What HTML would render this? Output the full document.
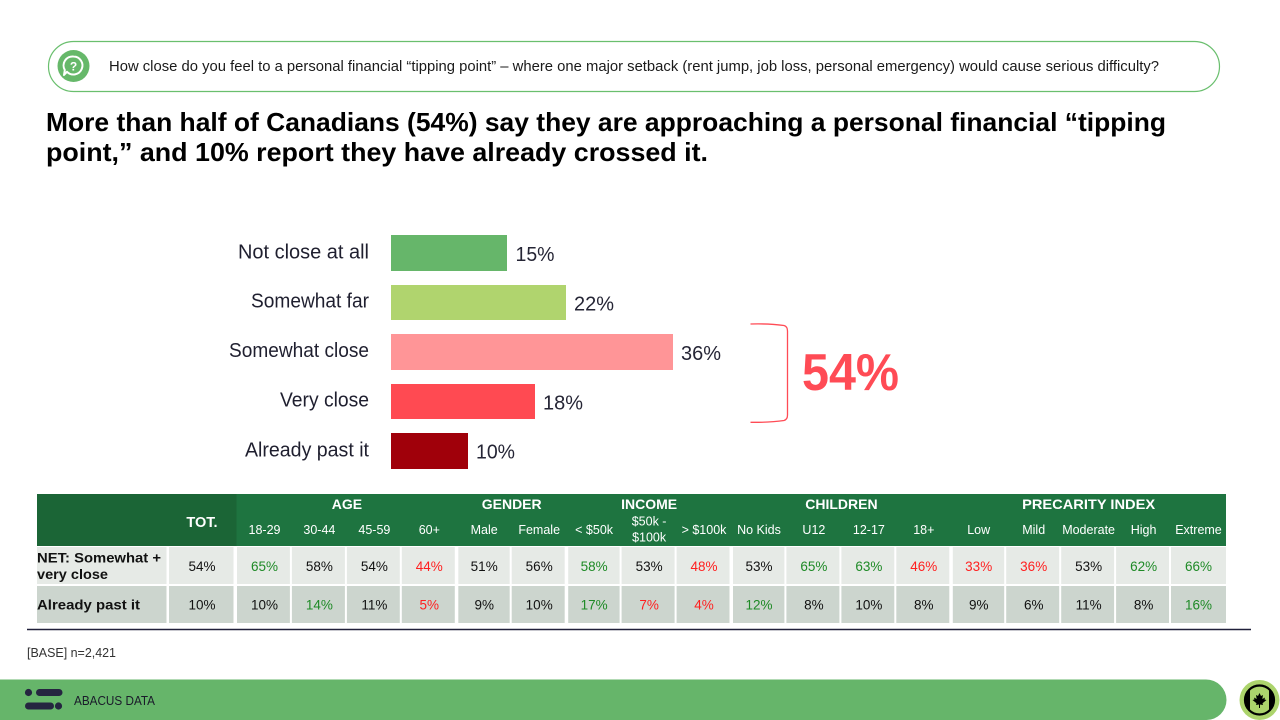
<!DOCTYPE html>
<html>
<head>
<meta charset="utf-8">
<style>
  html,body{margin:0;padding:0;background:#fff;}
  svg{display:block;}
  text{font-family:"Liberation Sans", Arial, sans-serif;}
</style>
</head>
<body>
<svg width="1280" height="720" viewBox="0 0 1280 720" xmlns="http://www.w3.org/2000/svg">
  <rect x="0" y="0" width="1280" height="720" fill="#ffffff"/>

  <!-- Question box -->
  <rect x="48.5" y="41.5" width="1171" height="50" rx="25" ry="25" fill="#fff" stroke="#6abf6e" stroke-width="1.2"/>
  <circle cx="73.5" cy="66" r="16" fill="#66b86a"/>
  <path d="M73.5,56.5 a9,9 0 1 1 -6.5,15.3 l-3,3.2 l0.8,-5 a9,9 0 0 1 8.7,-13.5 z" fill="none" stroke="#fff" stroke-width="2" stroke-linejoin="round"/>
  <text x="73.5" y="70.5" font-size="12" font-weight="bold" fill="#fff" text-anchor="middle">?</text>
  <text x="109" y="71" font-size="15" fill="#1a1a1a" textLength="1050" lengthAdjust="spacingAndGlyphs">How close do you feel to a personal financial “tipping point” – where one major setback (rent jump, job loss, personal emergency) would cause serious difficulty?</text>

  <!-- Title -->
  <text x="46" y="131" font-size="26" font-weight="bold" fill="#000" textLength="1120" lengthAdjust="spacingAndGlyphs">More than half of Canadians (54%) say they are approaching a personal financial “tipping</text>
  <text x="46" y="161" font-size="26" font-weight="bold" fill="#000" textLength="662" lengthAdjust="spacingAndGlyphs">point,” and 10% report they have already crossed it.</text>

  <!-- Bar labels -->
  <g font-size="20" fill="#1f1f2f">
    <text x="238" y="258.5" textLength="131" lengthAdjust="spacingAndGlyphs">Not close at all</text>
    <text x="251" y="307.5" textLength="118" lengthAdjust="spacingAndGlyphs">Somewhat far</text>
    <text x="229" y="357" textLength="140" lengthAdjust="spacingAndGlyphs">Somewhat close</text>
    <text x="280" y="406.5" textLength="89" lengthAdjust="spacingAndGlyphs">Very close</text>
    <text x="245" y="456.5" textLength="124" lengthAdjust="spacingAndGlyphs">Already past it</text>
  </g>

  <!-- Bars -->
  <rect x="391" y="235" width="116" height="36" fill="#66b66a"/>
  <rect x="391" y="285" width="175" height="35" fill="#b0d46e"/>
  <rect x="391" y="334" width="282" height="36" fill="#ff9597"/>
  <rect x="391" y="384" width="144" height="35" fill="#ff4a52"/>
  <rect x="391" y="433" width="77" height="36" fill="#a0000a"/>

  <!-- Values -->
  <g font-size="20" fill="#252535">
    <text x="515.5" y="261" textLength="39" lengthAdjust="spacingAndGlyphs">15%</text>
    <text x="574" y="310.5" textLength="40" lengthAdjust="spacingAndGlyphs">22%</text>
    <text x="681" y="360" textLength="40" lengthAdjust="spacingAndGlyphs">36%</text>
    <text x="543" y="409.5" textLength="40" lengthAdjust="spacingAndGlyphs">18%</text>
    <text x="476" y="458.5" textLength="39" lengthAdjust="spacingAndGlyphs">10%</text>
  </g>

  <!-- Bracket -->
  <path d="M750.5,324 Q770,323.5 784,325.5 Q787.5,326.5 787.5,331 L787.5,415 Q787.5,419.5 784,420.5 Q770,422.5 750.5,422.3" fill="none" stroke="#ff4b55" stroke-width="1.3"/>
  <text x="802" y="390" font-size="52" font-weight="bold" fill="#ff4b55" textLength="97" lengthAdjust="spacingAndGlyphs">54%</text>

  <!-- Table header -->
  <rect x="37" y="494" width="199.5" height="52" fill="#1b6536"/>
  <rect x="236.5" y="494" width="989.5" height="52" fill="#1e7440"/>
  <text x="202" y="527" font-size="14.5" font-weight="bold" fill="#fff" text-anchor="middle">TOT.</text>
  <g font-size="14" font-weight="bold" fill="#fff" text-anchor="middle">
    <text x="346.9" y="509">AGE</text>
    <text x="511.7" y="509">GENDER</text>
    <text x="649.1" y="509">INCOME</text>
    <text x="841.4" y="509">CHILDREN</text>
    <text x="1088.6" y="509" textLength="133" lengthAdjust="spacingAndGlyphs">PRECARITY INDEX</text>
  </g>
  <g font-size="12.5" fill="#fff" text-anchor="middle">
    <text x="264.5" y="534">18-29</text>
    <text x="319.4" y="534">30-44</text>
    <text x="374.4" y="534">45-59</text>
    <text x="429.3" y="534">60+</text>
    <text x="484.2" y="534">Male</text>
    <text x="539.2" y="534">Female</text>
    <text x="594.1" y="534">&lt; $50k</text>
    <text x="649.1" y="525.5">$50k -</text>
    <text x="649.1" y="541.5">$100k</text>
    <text x="704.0" y="534">&gt; $100k</text>
    <text x="759.0" y="534">No Kids</text>
    <text x="813.9" y="534">U12</text>
    <text x="868.9" y="534">12-17</text>
    <text x="923.8" y="534">18+</text>
    <text x="978.7" y="534">Low</text>
    <text x="1033.7" y="534">Mild</text>
    <text x="1088.6" y="534">Moderate</text>
    <text x="1143.6" y="534">High</text>
    <text x="1198.5" y="534">Extreme</text>
  </g>

  <!-- Table rows backgrounds -->
  <rect x="37" y="547" width="1189" height="37" fill="#e6eae6"/>
  <rect x="37" y="586" width="1189" height="37" fill="#ccd5ce"/>
  <!-- white separators -->
  <g fill="#ffffff">
    <rect x="166.5" y="546" width="2.5" height="78"/>
    <rect x="233.5" y="546" width="3.5" height="78"/>
    <rect x="289.9" y="546" width="2" height="78"/>
    <rect x="344.9" y="546" width="2" height="78"/>
    <rect x="399.8" y="546" width="2" height="78"/>
    <rect x="454.8" y="546" width="3.5" height="78"/>
    <rect x="509.7" y="546" width="2" height="78"/>
    <rect x="564.7" y="546" width="3.5" height="78"/>
    <rect x="619.6" y="546" width="2" height="78"/>
    <rect x="674.6" y="546" width="2" height="78"/>
    <rect x="729.5" y="546" width="3.5" height="78"/>
    <rect x="784.4" y="546" width="2" height="78"/>
    <rect x="839.4" y="546" width="2" height="78"/>
    <rect x="894.3" y="546" width="2" height="78"/>
    <rect x="949.3" y="546" width="3.5" height="78"/>
    <rect x="1004.2" y="546" width="2" height="78"/>
    <rect x="1059.2" y="546" width="2" height="78"/>
    <rect x="1114.1" y="546" width="2" height="78"/>
    <rect x="1169" y="546" width="2" height="78"/>
  </g>

  <!-- Row labels -->
  <g font-size="14" font-weight="bold" fill="#111">
    <text x="37" y="562.5" textLength="124" lengthAdjust="spacingAndGlyphs">NET: Somewhat +</text>
    <text x="37" y="579" textLength="71" lengthAdjust="spacingAndGlyphs">very close</text>
    <text x="37" y="609.5" textLength="103" lengthAdjust="spacingAndGlyphs">Already past it</text>
  </g>

  <!-- Row 1 values -->
  <g font-size="13.5" text-anchor="middle" fill="#111">
    <text x="202" y="571">54%</text>
    <text x="264.5" y="571" fill="#1e8a26">65%</text>
    <text x="319.4" y="571">58%</text>
    <text x="374.4" y="571">54%</text>
    <text x="429.3" y="571" fill="#ff1f1f">44%</text>
    <text x="484.2" y="571">51%</text>
    <text x="539.2" y="571">56%</text>
    <text x="594.1" y="571" fill="#1e8a26">58%</text>
    <text x="649.1" y="571">53%</text>
    <text x="704.0" y="571" fill="#ff1f1f">48%</text>
    <text x="759.0" y="571">53%</text>
    <text x="813.9" y="571" fill="#1e8a26">65%</text>
    <text x="868.9" y="571" fill="#1e8a26">63%</text>
    <text x="923.8" y="571" fill="#ff1f1f">46%</text>
    <text x="978.7" y="571" fill="#ff1f1f">33%</text>
    <text x="1033.7" y="571" fill="#ff1f1f">36%</text>
    <text x="1088.6" y="571">53%</text>
    <text x="1143.6" y="571" fill="#1e8a26">62%</text>
    <text x="1198.5" y="571" fill="#1e8a26">66%</text>
  </g>
  <!-- Row 2 values -->
  <g font-size="13.5" text-anchor="middle" fill="#111">
    <text x="202" y="609.5">10%</text>
    <text x="264.5" y="609.5">10%</text>
    <text x="319.4" y="609.5" fill="#1e8a26">14%</text>
    <text x="374.4" y="609.5">11%</text>
    <text x="429.3" y="609.5" fill="#ff1f1f">5%</text>
    <text x="484.2" y="609.5">9%</text>
    <text x="539.2" y="609.5">10%</text>
    <text x="594.1" y="609.5" fill="#1e8a26">17%</text>
    <text x="649.1" y="609.5" fill="#ff1f1f">7%</text>
    <text x="704.0" y="609.5" fill="#ff1f1f">4%</text>
    <text x="759.0" y="609.5" fill="#1e8a26">12%</text>
    <text x="813.9" y="609.5">8%</text>
    <text x="868.9" y="609.5">10%</text>
    <text x="923.8" y="609.5">8%</text>
    <text x="978.7" y="609.5">9%</text>
    <text x="1033.7" y="609.5">6%</text>
    <text x="1088.6" y="609.5">11%</text>
    <text x="1143.6" y="609.5">8%</text>
    <text x="1198.5" y="609.5" fill="#1e8a26">16%</text>
  </g>

  <!-- Bottom rule -->
  <line x1="27" y1="629.5" x2="1251" y2="629.5" stroke="#20203a" stroke-width="1.5"/>

  <!-- Base -->
  <text x="27" y="657" font-size="12.5" fill="#333" textLength="89" lengthAdjust="spacingAndGlyphs">[BASE] n=2,421</text>

  <!-- Footer band -->
  <path d="M0,679.5 H1206 A20.5,20.5 0 0 1 1226.5,700 A20,20 0 0 1 1206.5,720 H0 Z" fill="#66b56a"/>
  <!-- Logo -->
  <g fill="#252540">
    <circle cx="28.5" cy="692.5" r="3.6"/>
    <rect x="36" y="689" width="26.5" height="7" rx="3.5"/>
    <rect x="25" y="702.5" width="29" height="7" rx="3.5"/>
    <circle cx="58.5" cy="706" r="3.6"/>
  </g>
  <text x="74" y="705" font-size="12.5" fill="#1a1a2a" textLength="81" lengthAdjust="spacingAndGlyphs">ABACUS DATA</text>

  <!-- Canada badge -->
  <circle cx="1259.5" cy="700" r="20" fill="#acd46c"/>
  <clipPath id="cc"><circle cx="1259.5" cy="700" r="14"/></clipPath>
  <g clip-path="url(#cc)">
    <rect x="1244" y="684" width="31" height="32" fill="#acd46c"/>
    <rect x="1244" y="684" width="6" height="32" fill="#000"/>
    <rect x="1269" y="684" width="6" height="32" fill="#000"/>
  </g>
  <circle cx="1259.5" cy="700" r="14.5" fill="none" stroke="#000" stroke-width="2.2"/>
  <path d="M1259.5,693 L1261,696 L1263,695 L1262.3,699 L1265,697.5 L1264.5,699.5 L1266.5,700 L1262.5,703.2 L1263,705 L1260,704.5 L1260,708 L1259,708 L1259,704.5 L1256,705 L1256.5,703.2 L1252.5,700 L1254.5,699.5 L1254,697.5 L1256.7,699 L1256,695 L1258,696 Z" fill="#000"/>
</svg>
</body>
</html>
